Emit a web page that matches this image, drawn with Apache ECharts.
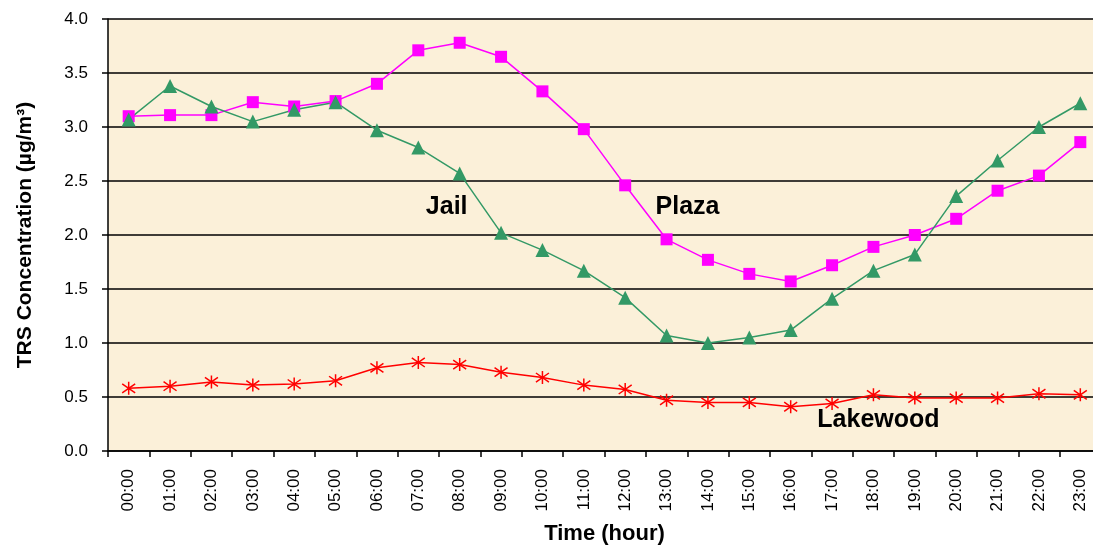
<!DOCTYPE html>
<html><head><meta charset="utf-8">
<script src="https://cdn.jsdelivr.net/npm/echarts@6/dist/echarts.min.js"></script>
<style>html,body{margin:0;padding:0;background:#fff;}#c{width:1093px;height:545px;}</style>
</head><body><div id="c"></div>
<script>
var hours = ['00:00','01:00','02:00','03:00','04:00','05:00','06:00','07:00','08:00','09:00','10:00','11:00','12:00','13:00','14:00','15:00','16:00','17:00','18:00','19:00','20:00','21:00','22:00','23:00'];
var plaza = [3.10,3.11,3.11,3.23,3.19,3.24,3.40,3.71,3.78,3.65,3.33,2.98,2.46,1.96,1.77,1.64,1.57,1.72,1.89,2.00,2.15,2.41,2.55,2.86];
var jail = [3.07,3.38,3.19,3.05,3.16,3.23,2.97,2.81,2.57,2.02,1.86,1.67,1.42,1.07,1.00,1.05,1.12,1.41,1.67,1.82,2.36,2.69,3.00,3.22];
var lakewood = [0.58,0.60,0.64,0.61,0.62,0.65,0.77,0.82,0.80,0.73,0.68,0.61,0.57,0.47,0.45,0.45,0.41,0.44,0.52,0.49,0.49,0.49,0.53,0.52];
var yTicks = [0,0.5,1,1.5,2,2.5,3,3.5,4];

var FONT = '"Liberation Sans", Arial, sans-serif';
var chart = echarts.init(document.getElementById('c'), null, {renderer:'canvas'});
function nameLabel(text, cat, val, dx){
  return {data:[{coord:[cat,val], symbol:'circle', symbolSize:0,
    label:{show:true, formatter:text, position:'inside', offset:[dx,0],
      fontFamily:FONT, fontWeight:'bold', fontSize:25, color:'#000'}}],
    animation:false};
}
chart.setOption({
  animation:false,
  backgroundColor:'#ffffff',
  grid:{left:108, width:993, top:19, height:432, outerBoundsMode:'none', containLabel:false,
    show:true, backgroundColor:'#FBF0D9', borderWidth:0},
  xAxis:{type:'category', data:hours, boundaryGap:true,
    name:'Time (hour)', nameLocation:'middle', nameGap:72,
    nameTextStyle:{fontFamily:FONT, fontWeight:'bold', fontSize:22, color:'#000'},
    axisLine:{lineStyle:{color:'#000', width:1.5}},
    axisTick:{show:true, length:6, lineStyle:{color:'#000', width:1.5}},
    axisLabel:{rotate:90, fontFamily:FONT, fontSize:17, color:'#000', margin:18},
    splitLine:{show:false}},
  yAxis:{type:'value', min:0, max:4, interval:0.5,
    name:'TRS Concentration (µg/m³)', nameLocation:'middle', nameGap:72,
    nameTextStyle:{fontFamily:FONT, fontWeight:'bold', fontSize:21, color:'#000'},
    axisLine:{show:true, lineStyle:{color:'#000', width:1.5}},
    axisTick:{show:true, length:6, lineStyle:{color:'#000', width:1.5}},
    axisLabel:{fontFamily:FONT, fontSize:17, color:'#000', margin:20,
      formatter:function(v){ return yTicks.indexOf(v)>=0 ? v.toFixed(1) : ''; }},
    splitLine:{show:true, lineStyle:{color:'#000', width:1.5}}},
  series:[
    {name:'Plaza', type:'line', data:plaza, symbol:'rect', symbolSize:12,
      lineStyle:{color:'#FF00FF', width:1.5}, itemStyle:{color:'#FF00FF'},
      markPoint:nameLabel('Plaza','13:00',2.26,21)},
    {name:'Jail', type:'line', data:jail, symbol:'triangle', symbolSize:14,
      lineStyle:{color:'#339966', width:1.5}, itemStyle:{color:'#339966'},
      markPoint:nameLabel('Jail','08:00',2.26,-13)},
    {name:'Lakewood', type:'line', data:lakewood,
      symbol:'path://M5 0L5 10M0 1.5L10 8.5M0 8.5L10 1.5', symbolSize:13,
      lineStyle:{color:'#FF0000', width:1.5},
      itemStyle:{color:'rgba(0,0,0,0)', borderColor:'#FF0000', borderWidth:1.5},
      markPoint:nameLabel('Lakewood','18:00',0.29,5)}
  ]
});
</script></body></html>
